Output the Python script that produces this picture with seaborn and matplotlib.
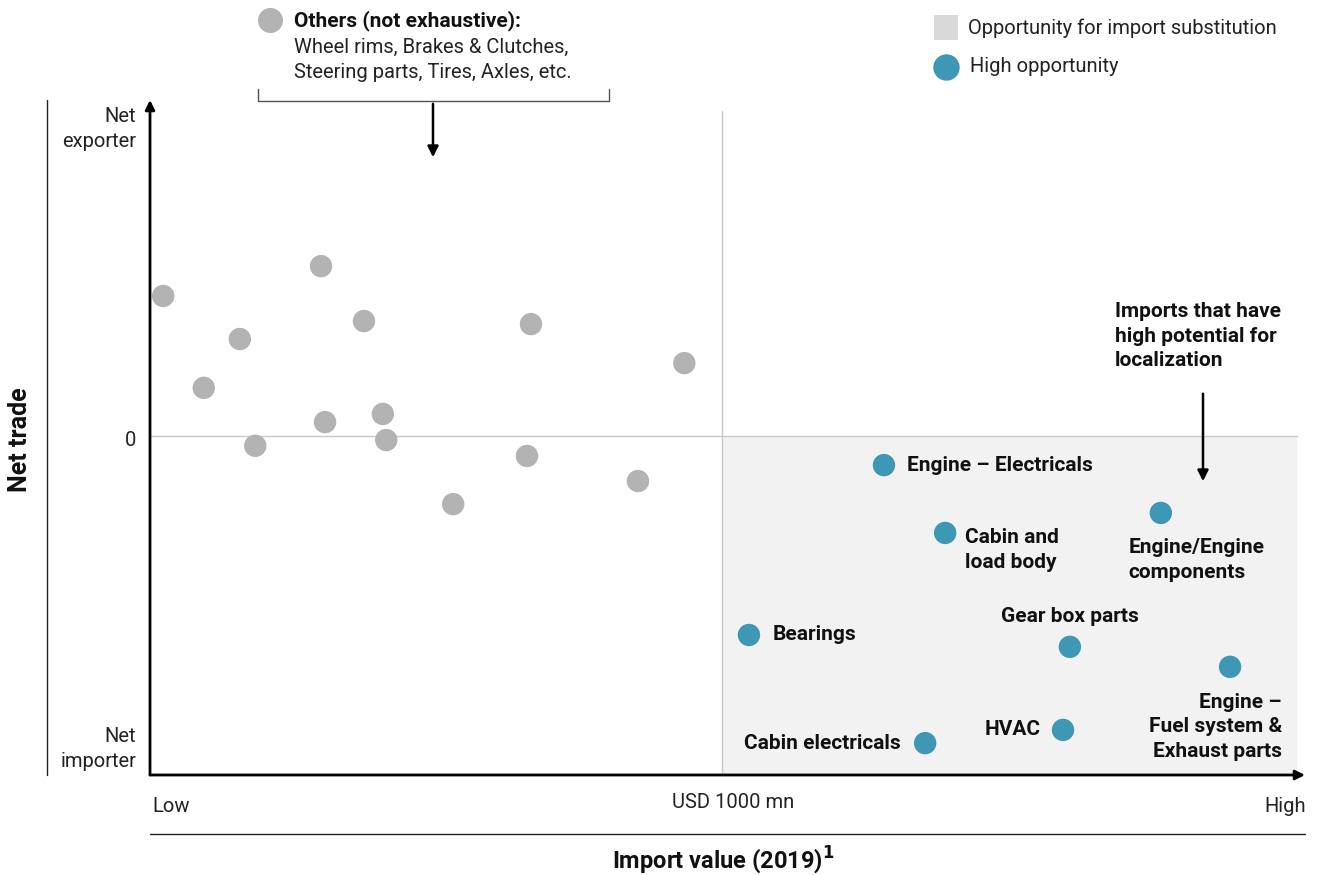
import numpy as np
import pandas as pd
import matplotlib
matplotlib.use("Agg")
import matplotlib.pyplot as plt
import seaborn as sns

# Данные: x = условный объём импорта (1000 = USD 1000 mn), y = чистая торговля (-100..100)
others_x = [23, 299, 157, 374, 666, 94, 934, 306, 407, 184, 413, 659, 853, 530]
others_y = [41.3, 50.1, 28.6, 33.9, 33.0, 14.2, 21.5, 4.1, 6.5, -2.9, -1.2, -5.9, -13.3, -20.1]

high_names = ["Engine – Electricals", "Cabin and\nload body", "Engine/Engine\ncomponents",
              "Bearings", "Gear box parts", "Engine –\nFuel system &\nExhaust parts",
              "HVAC", "Cabin electricals"]
high_x = [1283, 1390, 1767, 1047, 1608, 1888, 1596, 1355]
high_y = [-8.6, -28.6, -22.7, -58.7, -62.2, -68.1, -86.7, -90.6]

x_tick_labels = ["Low", "USD 1000 mn", "High"]
y_tick_labels = ["Net\nexporter", "0", "Net\nimporter"]

GREY = "#b3b3b3"
BLUE = "#3e97b5"
SHADE = "#f2f2f2"

sns.set_style("white")
plt.rcParams["font.family"] = ["Roboto", "DejaVu Sans"]

W, H = 1323, 875
fig = plt.figure(figsize=(W / 100, H / 100), dpi=100)


def fx(px):
    return px / W


def fy(py):
    return 1 - py / H


ax = fig.add_axes([fx(150), fy(775), (1305 - 150) / W, (775 - 100) / H])
ax.set_xlim(0, 2019)
ax.set_ylim(-100, 99.1)
for s in ax.spines.values():
    s.set_visible(False)
ax.set_xticks([])
ax.set_yticks([])

# затенённая зона и опорные линии
ax.axvspan(1000, 2005, ymin=0, ymax=100 / 199.1, color=SHADE, lw=0, zorder=0)
ax.plot([0, 2005], [0, 0], color="#c8c8c8", lw=1, zorder=1)
ax.plot([1000, 1000], [-100, 96], color="#c8c8c8", lw=1, zorder=1)

df_o = pd.DataFrame({"x": others_x, "y": others_y})
df_h = pd.DataFrame({"x": high_x, "y": high_y, "name": high_names})
sns.scatterplot(data=df_o, x="x", y="y", ax=ax, color=GREY, s=260, edgecolor="none", zorder=3)
sns.scatterplot(data=df_h, x="x", y="y", ax=ax, color=BLUE, s=260, edgecolor="none", zorder=3)
ax.set_xlabel("")
ax.set_ylabel("")

# подписи точек: смещение в пикселях, выравнивание
label_offsets = [(23, 0, "left"), (20, -17, "left"), (-32, -47, "left"), (24, 0, "left"),
                 (0, 30, "center"), (52, -60, "right"), (-22, 0, "right"), (-24, 0, "right")]
for (name, x, y), (dx, dy, ha) in zip(zip(high_names, high_x, high_y), label_offsets):
    ax.annotate(name, (x, y), xytext=(dx * 0.72, dy * 0.72), textcoords="offset points",
                ha=ha, va="center", fontsize=15, fontweight="bold", color="#111111",
                linespacing=1.35, multialignment=ha)

# оси со стрелками
ax.annotate("", xy=(1.0, 0), xytext=(0, 0), xycoords="axes fraction",
            arrowprops=dict(arrowstyle="-|>", color="black", lw=2, mutation_scale=14,
                            shrinkA=0, shrinkB=0))
ax.annotate("", xy=(0, 1.0), xytext=(0, 0), xycoords="axes fraction",
            arrowprops=dict(arrowstyle="-|>", color="black", lw=2, mutation_scale=14,
                            shrinkA=0, shrinkB=0))

# подписи делений
tick_kw = dict(fontsize=14.5, color="#222222")
fig.text(fx(152), fy(806), x_tick_labels[0], ha="left", va="center", **tick_kw)
fig.text(fx(733), fy(802), x_tick_labels[1], ha="center", va="center", **tick_kw)
fig.text(fx(1306), fy(806), x_tick_labels[2], ha="right", va="center", **tick_kw)
fig.text(fx(136), fy(129), y_tick_labels[0], ha="right", va="center", linespacing=1.35, **tick_kw)
fig.text(fx(136), fy(440), y_tick_labels[1], ha="right", va="center", **tick_kw)
fig.text(fx(136), fy(749), y_tick_labels[2], ha="right", va="center", linespacing=1.35, **tick_kw)

# разделители и названия осей
fig.add_artist(plt.Line2D([fx(150), fx(1305)], [fy(834), fy(834)], color="#222222", lw=1))
fig.add_artist(plt.Line2D([fx(47), fx(47)], [fy(100), fy(775)], color="#222222", lw=1))
fig.text(fx(723), fy(860), "Import value (2019)$^{\\mathbf{1}}$", ha="center", va="center",
         fontsize=17, fontweight="bold", color="#111111")
fig.text(fx(20), fy(440), "Net trade", rotation=90, ha="center", va="center",
         fontsize=18, fontweight="bold", color="#111111")

# выноска «Others»
fig.add_artist(plt.Line2D([fx(270)], [fy(20)], marker="o", markersize=17, color=GREY, lw=0))
fig.text(fx(294), fy(21), "Others (not exhaustive):", ha="left", va="center",
         fontsize=15, fontweight="bold", color="#111111")
fig.text(fx(294), fy(60), "Wheel rims, Brakes & Clutches,\nSteering parts, Tires, Axles, etc.",
         ha="left", va="center", fontsize=14.5, color="#222222", linespacing=1.35)
fig.add_artist(plt.Line2D([fx(258), fx(258), fx(609), fx(609)],
                          [fy(89), fy(101), fy(101), fy(89)], color="#555555", lw=1))
fig.add_artist(matplotlib.patches.FancyArrowPatch((fx(433), fy(101)), (fx(433), fy(160)),
                                                  transform=fig.transFigure, arrowstyle="-|>",
                                                  mutation_scale=16, color="black", lw=1.8))

# выноска справа
fig.text(fx(1115), fy(336), "Imports that have\nhigh potential for\nlocalization", ha="left",
         va="center", fontsize=15, fontweight="bold", color="#111111", linespacing=1.35)
fig.add_artist(matplotlib.patches.FancyArrowPatch((fx(1203), fy(391)), (fx(1203), fy(484)),
                                                  transform=fig.transFigure, arrowstyle="-|>",
                                                  mutation_scale=16, color="black", lw=1.8))

# легенда
fig.add_artist(matplotlib.patches.Rectangle((fx(934), fy(40)), 24 / W, 25 / H,
                                            transform=fig.transFigure, color="#d9d9d9", lw=0))
fig.text(fx(968), fy(28), "Opportunity for import substitution", ha="left", va="center",
         fontsize=14.5, color="#222222")
fig.add_artist(plt.Line2D([fx(946)], [fy(67)], marker="o", markersize=18, color=BLUE, lw=0))
fig.text(fx(970), fy(67), "High opportunity", ha="left", va="center", fontsize=14.5, color="#222222")

fig.savefig("out.png", dpi=100)
